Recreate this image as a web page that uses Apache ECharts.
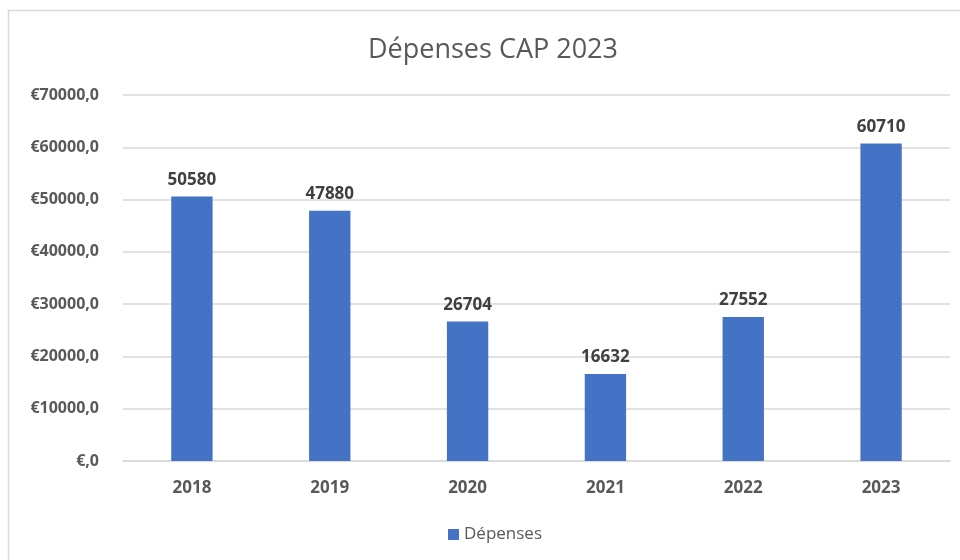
<!DOCTYPE html>
<html><head><meta charset="utf-8">
<script src="https://cdn.jsdelivr.net/npm/echarts@6/dist/echarts.min.js"></script>
<style>html,body{margin:0;padding:0;background:#fff}#c{width:960px;height:560px}</style>
</head><body><div id="c"></div>
<script>
const categories = ['2018','2019','2020','2021','2022','2023'];
const depenses = [50580, 47880, 26704, 16632, 27552, 60710];
const seriesName = 'Dépenses';
const titleText = 'Dépenses CAP 2023';

const chart = echarts.init(document.getElementById('c'));
const font = '"Open Sans", "Noto Sans", sans-serif';
chart.setOption({
  animation: false,
  backgroundColor: '#fff',
  graphic: [{type:'rect', shape:{x:8.5,y:10.5,width:1000,height:600}, style:{fill:'none', stroke:'#d9d9d9', lineWidth:1.5}, silent:true}],
  title: {text: titleText, left: 363, top: 32, textStyle:{fontFamily:font, fontSize:27, fontWeight:'normal', color:'#595959'}},
  legend: {bottom: 12, left: 443, itemWidth: 11, itemHeight: 11, icon:'rect', itemGap: 6,
    textStyle:{fontFamily:font, fontSize:17, color:'#595959'}},
  grid: {left: 123, right: 10, top: 95, bottom: 99},
  xAxis: {type:'category', data: categories,
    axisLine:{lineStyle:{color:'#d9d9d9', width:1.5}}, axisTick:{show:false},
    axisLabel:{fontFamily:font, fontSize:17, fontWeight:'bold', color:'#595959', margin:19}},
  yAxis: {type:'value', min:0, max:70000, interval:10000,
    axisLine:{show:false}, axisTick:{show:false},
    splitLine:{lineStyle:{color:'#d9d9d9', width:1.5}},
    axisLabel:{fontFamily:font, fontSize:16, fontWeight:'bold', color:'#595959', margin:24,
      formatter: v => v === 0 ? '€,0' : '€' + v + ',0'}},
  series: [{name: seriesName, type:'bar', data: depenses, barWidth:'30%',
    itemStyle:{color:'#4472c4'},
    label:{show:true, position:'top', distance:8, fontFamily:font, fontSize:17, fontWeight:'bold', color:'#404040'}}]
});
</script></body></html>
